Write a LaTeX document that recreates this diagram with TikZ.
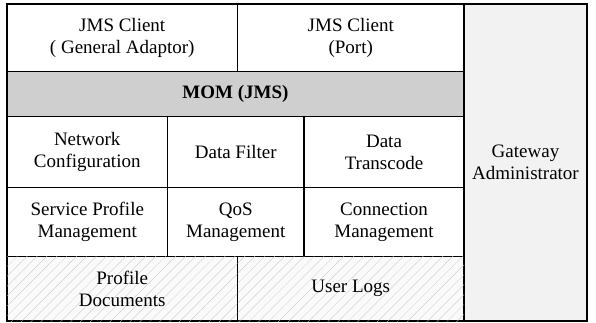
\documentclass[tikz,border=0pt]{standalone}
\usepackage{fontspec}
\setmainfont{Liberation Serif}
\usetikzlibrary{patterns.meta}

\tikzset{
  cell/.style={draw, line width=1.4pt, inner sep=0pt, align=center,
    font=\fontsize{19}{22}\selectfont},
  momcell/.style={cell, fill=gray!38, font=\fontsize{19}{22}\selectfont\bfseries},
  gatecell/.style={cell, fill=gray!10},
  storecell/.style={cell, fill=gray!4,
    postaction={pattern={Lines[angle=45,distance=7pt,line width=0.3pt]},
      pattern color=gray!45}}
}

\begin{document}
\begin{tikzpicture}[x=1pt,y=-1pt]
\useasboundingbox (0,0) rectangle (596,323);
% right column
\node[gatecell, minimum width=123pt, minimum height=317pt] (gate) at (525.5,162.5) {Gateway\\Administrator};
% top row
\node[cell, minimum width=230.5pt, minimum height=67.5pt] (clientgen) at (122.25,37.75) {JMS Client\\( General Adaptor)};
\node[cell, minimum width=226.5pt, minimum height=67.5pt] (clientport) at (350.75,37.75) {JMS Client\\(Port)};
% middleware
\node[momcell, minimum width=457pt, minimum height=45pt] (mom) at (235.5,94) {MOM (JMS)};
% functions
\node[cell, minimum width=160.5pt, minimum height=71pt] (netconf) at (87.25,152) {Network\\Configuration};
\node[cell, minimum width=136.5pt, minimum height=71pt] (filter) at (235.75,152) {Data Filter};
\node[cell, minimum width=160pt, minimum height=71pt] (transcode) at (384,152) {Data\\Transcode};
\node[cell, minimum width=160.5pt, minimum height=69pt] (profmgmt) at (87.25,222) {Service Profile\\Management};
\node[cell, minimum width=136.5pt, minimum height=69pt] (qos) at (235.75,222) {QoS\\Management};
\node[cell, minimum width=160pt, minimum height=69pt] (connmgmt) at (384,222) {Connection\\Management};
% storage
\node[storecell, minimum width=230.5pt, minimum height=64.5pt] (profdocs) at (122.25,288.75) {Profile\\Documents};
\node[storecell, minimum width=226.5pt, minimum height=64.5pt] (userlogs) at (350.75,288.75) {User Logs};
\end{tikzpicture}
\end{document}
